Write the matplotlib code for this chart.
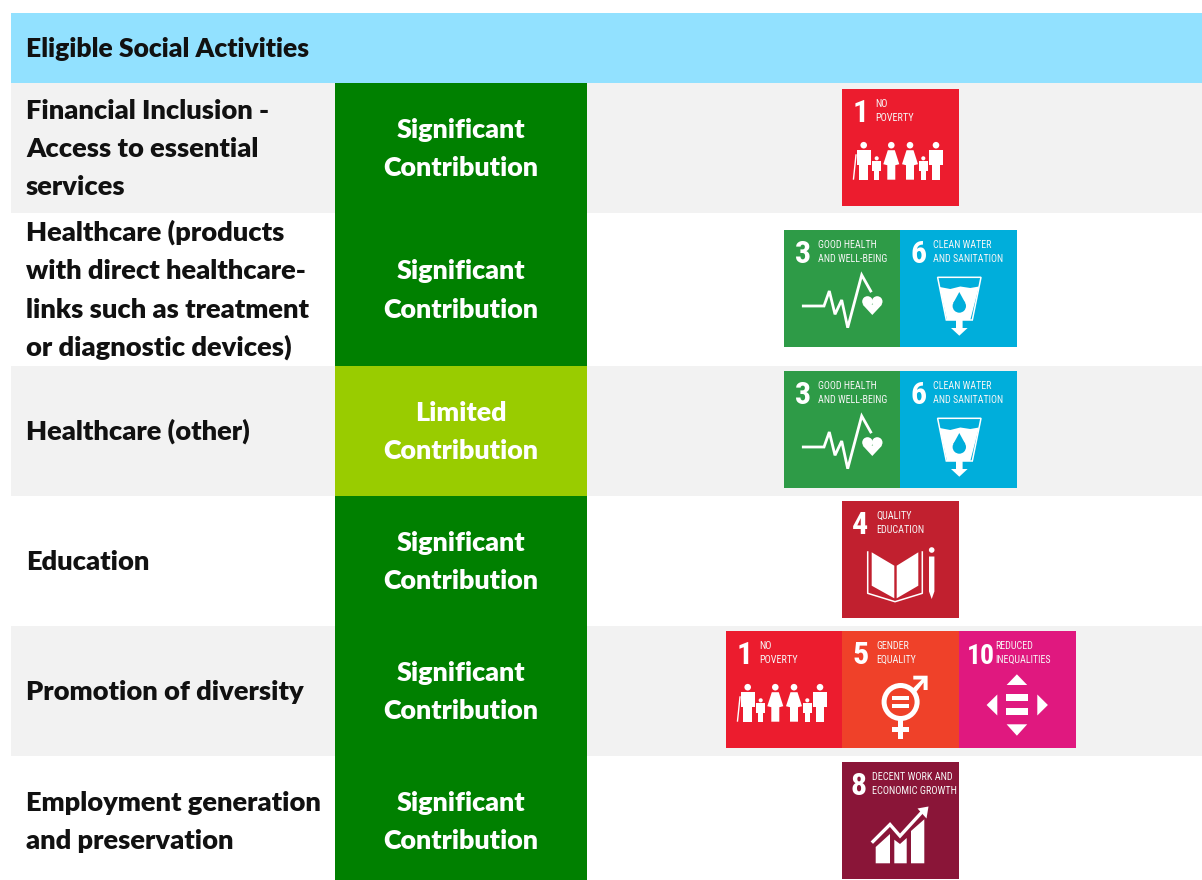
import matplotlib
matplotlib.use("Agg")
import matplotlib.pyplot as plt
from matplotlib.patches import Rectangle, Polygon, Circle
from matplotlib.lines import Line2D

header_text = "Eligible Social Activities"
activities = [
    ["Financial Inclusion -", "Access to essential", "services"],
    ["Healthcare (products", "with direct healthcare-", "links such as treatment", "or diagnostic devices)"],
    ["Healthcare (other)"],
    ["Education"],
    ["Promotion of diversity"],
    ["Employment generation", "and preservation"],
]
contributions = [
    ["Significant", "Contribution"],
    ["Significant", "Contribution"],
    ["Limited", "Contribution"],
    ["Significant", "Contribution"],
    ["Significant", "Contribution"],
    ["Significant", "Contribution"],
]
row_goals = [[1], [3, 6], [3, 6], [4], [1, 5, 10], [8]]
goal_titles = {
    1: ["NO", "POVERTY"],
    3: ["GOOD HEALTH", "AND WELL-BEING"],
    4: ["QUALITY", "EDUCATION"],
    5: ["GENDER", "EQUALITY"],
    6: ["CLEAN WATER", "AND SANITATION"],
    8: ["DECENT WORK AND", "ECONOMIC GROWTH"],
    10: ["REDUCED", "INEQUALITIES"],
}

# layout and styles
row_edges = [83, 213, 366, 496, 626, 756, 880]
text_centres = [148, 289.5, 431, 561, 691, 821]
tile_tops = [89, 230, 371, 501, 631, 762]
tile_lefts = [842, 784, 784, 842, 726, 842]
TILE = 116.3
goal_colors = {1: "#EC1C2E", 3: "#2E9B47", 4: "#C1202F", 5: "#EF4129",
               6: "#00AEDB", 8: "#8A1538", 10: "#E0187F"}
title_x = {1: 33, 3: 34, 4: 34, 5: 34, 6: 33, 8: 30.5, 10: 37}
title_size = {1: 7.4, 3: 7.2, 4: 7.3, 5: 7.2, 6: 7.2, 8: 7.4, 10: 7.2}
number_x = {1: 11, 3: 11, 4: 10, 5: 10, 6: 10, 8: 9, 10: 8}
TEXT = "#111111"
SANS = ["Lato", "DejaVu Sans"]
NARROW = ["Roboto Condensed", "DejaVu Sans"]

fig = plt.figure(figsize=(12.02, 8.8), dpi=100)
ax = fig.add_axes([0, 0, 1, 1])
ax.set_xlim(0, 1202)
ax.set_ylim(880, 0)
ax.axis("off")


def rect(x0, y0, x1, y1, color, z=1):
    ax.add_patch(Rectangle((x0, y0), x1 - x0, y1 - y0, fc=color, ec="none", zorder=z))


def text_lines(x, yc, lines, ha, color, size):
    n = len(lines)
    for i, line in enumerate(lines):
        y = yc + (i - (n - 1) / 2) * 38.3 + 9
        ax.text(x, y, line, ha=ha, va="baseline", color=color, fontsize=size,
                fontweight=800, family=SANS, zorder=3)


def family(P):
    for cx, s in [(21.7, 1.0), (49.3, 1.0), (68, 1.0), (94, 1.0), (34.7, .62), (81.3, .62)]:
        foot = 90.7
        top = foot - 34.5 * s
        r = 3.3 * s
        ax.add_patch(Circle(P(cx, top), r, fc="w", ec="none", zorder=4))
        dress = cx in (49.3, 68)
        if dress:
            pts = [(cx - 3.5, top + 5), (cx + 3.5, top + 5), (cx + 8, top + 19), (cx + 4, top + 20),
                   (cx + 4, foot), (cx - 4, foot), (cx - 4, top + 20), (cx - 8, top + 19)]
        else:
            w = 7 * s
            pts = [(cx - w, top + 5 * s), (cx + w, top + 5 * s), (cx + w, top + 20 * s),
                   (cx + w * .62, top + 20 * s), (cx + w * .62, foot), (cx - w * .62, foot),
                   (cx - w * .62, top + 20 * s), (cx - w, top + 20 * s)]
        ax.add_patch(Polygon([P(*p) for p in pts], fc="w", ec="none", zorder=4))
    a, b = P(14, 66), P(11.5, 90)
    ax.add_line(Line2D([a[0], b[0]], [a[1], b[1]], color="w", lw=1, zorder=4))


def heartbeat(P):
    pts = [(19.3, 76), (40, 76), (45.3, 61), (51, 84.3), (57.7, 70), (63.7, 97.7), (77.7, 45), (86.7, 61)]
    q = [P(*p) for p in pts]
    ax.add_line(Line2D([p[0] for p in q], [p[1] for p in q], color="w", lw=2.0, zorder=4,
                       solid_joinstyle="miter"))
    ax.add_patch(Circle(P(83.5, 71.5), 5.3, fc="w", ec="none", zorder=4))
    ax.add_patch(Circle(P(93.2, 71.5), 5.3, fc="w", ec="none", zorder=4))
    ax.add_patch(Polygon([P(78.6, 74.5), P(98.1, 74.5), P(88.3, 85)], fc="w", ec="none", zorder=4))


def water(P):
    outline = [P(37.3, 47.3), P(80.7, 47.3), P(72, 90), P(46, 90)]
    ax.add_patch(Polygon(outline, fc="none", ec="w", lw=1.1, zorder=4))
    ax.add_patch(Polygon([P(39.3, 57), P(50, 59), P(60, 56.5), P(70, 58), P(78.7, 56.5), P(70, 90), P(46.7, 90)],
                         fc="w", ec="none", zorder=4))
    blue = goal_colors[6]
    ax.add_patch(Circle(P(59, 76), 6.7, fc=blue, ec="none", zorder=5))
    ax.add_patch(Polygon([P(53, 73), P(59, 62), P(65, 73)], fc=blue, ec="none", zorder=5))
    ax.add_patch(Polygon([P(55.7, 90), P(62.3, 90), P(62.3, 98), P(67.3, 98), P(59, 105.7), P(50.7, 98), P(55.7, 98)],
                         fc="w", ec="none", zorder=4))


def book(P):
    L = [(29.7, 51.3), (52.3, 64.7), (52.3, 97.3), (29.7, 84.7)]
    R = [(54.7, 64.7), (76.3, 51.3), (76.3, 84.7), (54.7, 97.3)]
    ax.add_patch(Polygon([P(*p) for p in L], fc="w", ec="none", zorder=4))
    ax.add_patch(Polygon([P(*p) for p in R], fc="w", ec="none", zorder=4))
    o = [P(*p) for p in [(25.7, 51), (25.7, 92.3), (53, 100.7), (80.3, 92.3), (80.3, 51)]]
    ax.add_line(Line2D([p[0] for p in o], [p[1] for p in o], color="w", lw=1.1, zorder=4))
    ax.add_patch(Circle(P(89.7, 49), 2.8, fc="w", ec="none", zorder=4))
    ax.add_patch(Polygon([P(87, 55.5), P(92.4, 55.5), P(92.4, 90.5), P(89.7, 98), P(87, 90.5)],
                         fc="w", ec="none", zorder=4))


def gender(P):
    ax.add_patch(Circle(P(58.3, 71), 16.5, fc="none", ec="w", lw=3.6, zorder=4))
    for y in (65.5, 73.5):
        ax.add_patch(Polygon([P(49.7, y), P(67, y), P(67, y + 3.4), P(49.7, y + 3.4)], fc="w", ec="none", zorder=4))
    ax.add_patch(Polygon([P(55.8, 88), P(60.8, 88), P(60.8, 96.5), P(67, 96.5), P(67, 101.5), P(60.8, 101.5),
                          P(60.8, 108), P(55.8, 108), P(55.8, 101.5), P(49.7, 101.5), P(49.7, 96.5), P(55.8, 96.5)],
                         fc="w", ec="none", zorder=4))
    ax.add_patch(Polygon([P(70, 58), P(79.5, 48.5), P(71, 48.5), P(71, 44.7), P(85.3, 44.7), P(85.3, 59),
                          P(81.3, 59), P(81.3, 51.5), P(73.5, 61.5)], fc="w", ec="none", zorder=4))


def inequality(P):
    for y0 in (63.3, 77.3):
        ax.add_patch(Polygon([P(47, y0), P(69.5, y0), P(69.5, y0 + 6.7), P(47, y0 + 6.7)], fc="w", ec="none", zorder=4))
    for tri in ([(58.3, 43.3), (48, 54), (68.6, 54)], [(58.3, 104.7), (48, 93.3), (68.6, 93.3)],
                [(28, 74), (38.7, 63.5), (38.7, 84.5)], [(89.3, 74), (78.7, 63.5), (78.7, 84.5)]):
        ax.add_patch(Polygon([P(*p) for p in tri], fc="w", ec="none", zorder=4))


def growth(P):
    for poly in ([(33.7, 85), (48, 72), (48, 101.3), (33.7, 101.3)],
                 [(52.3, 77.7), (58, 82), (64.7, 76), (64.7, 101.3), (52.3, 101.3)],
                 [(69, 69), (82.3, 57.3), (82.3, 101.3), (69, 101.3)]):
        ax.add_patch(Polygon([P(*p) for p in poly], fc="w", ec="none", zorder=4))
    q = [P(*p) for p in [(31, 79.5), (48, 62.5), (58, 74), (80, 50)]]
    ax.add_line(Line2D([p[0] for p in q], [p[1] for p in q], color="w", lw=2.4, zorder=4,
                       solid_joinstyle="miter"))
    ax.add_patch(Polygon([P(75.5, 46.5), P(86.5, 44.5), P(84.5, 56.5)], fc="w", ec="none", zorder=4))


glyphs = {1: family, 3: heartbeat, 4: book, 5: gender, 6: water, 8: growth, 10: inequality}


def tile(x, y, goal, z):
    rect(x, y, x + TILE + 0.7, y + TILE + 0.3, goal_colors[goal], z=z)

    def P(u, v):
        return x + u, y + v

    glyphs[goal](P)
    nx, ny = P(number_x[goal], 33)
    ax.text(nx, ny, str(goal), color="w", fontsize=23 if goal != 10 else 20, fontweight="bold",
            family=NARROW, ha="left", va="baseline", zorder=4)
    a, b = goal_titles[goal]
    tx = x + title_x[goal]
    ax.text(tx, y + 18, a, color="#F6F6F6", fontsize=title_size[goal], family=NARROW, zorder=4, va="baseline")
    ax.text(tx, y + 32, b, color="#F6F6F6", fontsize=title_size[goal], family=NARROW, zorder=4, va="baseline")


rect(11, 13, 1202, 83, "#92E1FF")
ax.text(26, 57, header_text, color=TEXT, fontsize=19.1, fontweight=800, family=SANS, va="baseline", zorder=3)

for i, (act, con, goals) in enumerate(zip(activities, contributions, row_goals)):
    y0, y1 = row_edges[i], row_edges[i + 1]
    if i % 2 == 0:
        rect(11, y0, 1202, y1, "#F2F2F2")
    rect(335, y0, 587, y1, "#99CC00" if con[0] == "Limited" else "#008000", z=1.5)
    yc = text_centres[i]
    text_lines(26, yc, act, "left", TEXT, 19.65)
    text_lines(461, yc, con, "center", "white", 19.4)
    for k, g in enumerate(goals):
        tile(tile_lefts[i] + k * TILE, tile_tops[i], g, 2 + 0.01 * k)

fig.savefig("out.png", dpi=100, facecolor="white")
